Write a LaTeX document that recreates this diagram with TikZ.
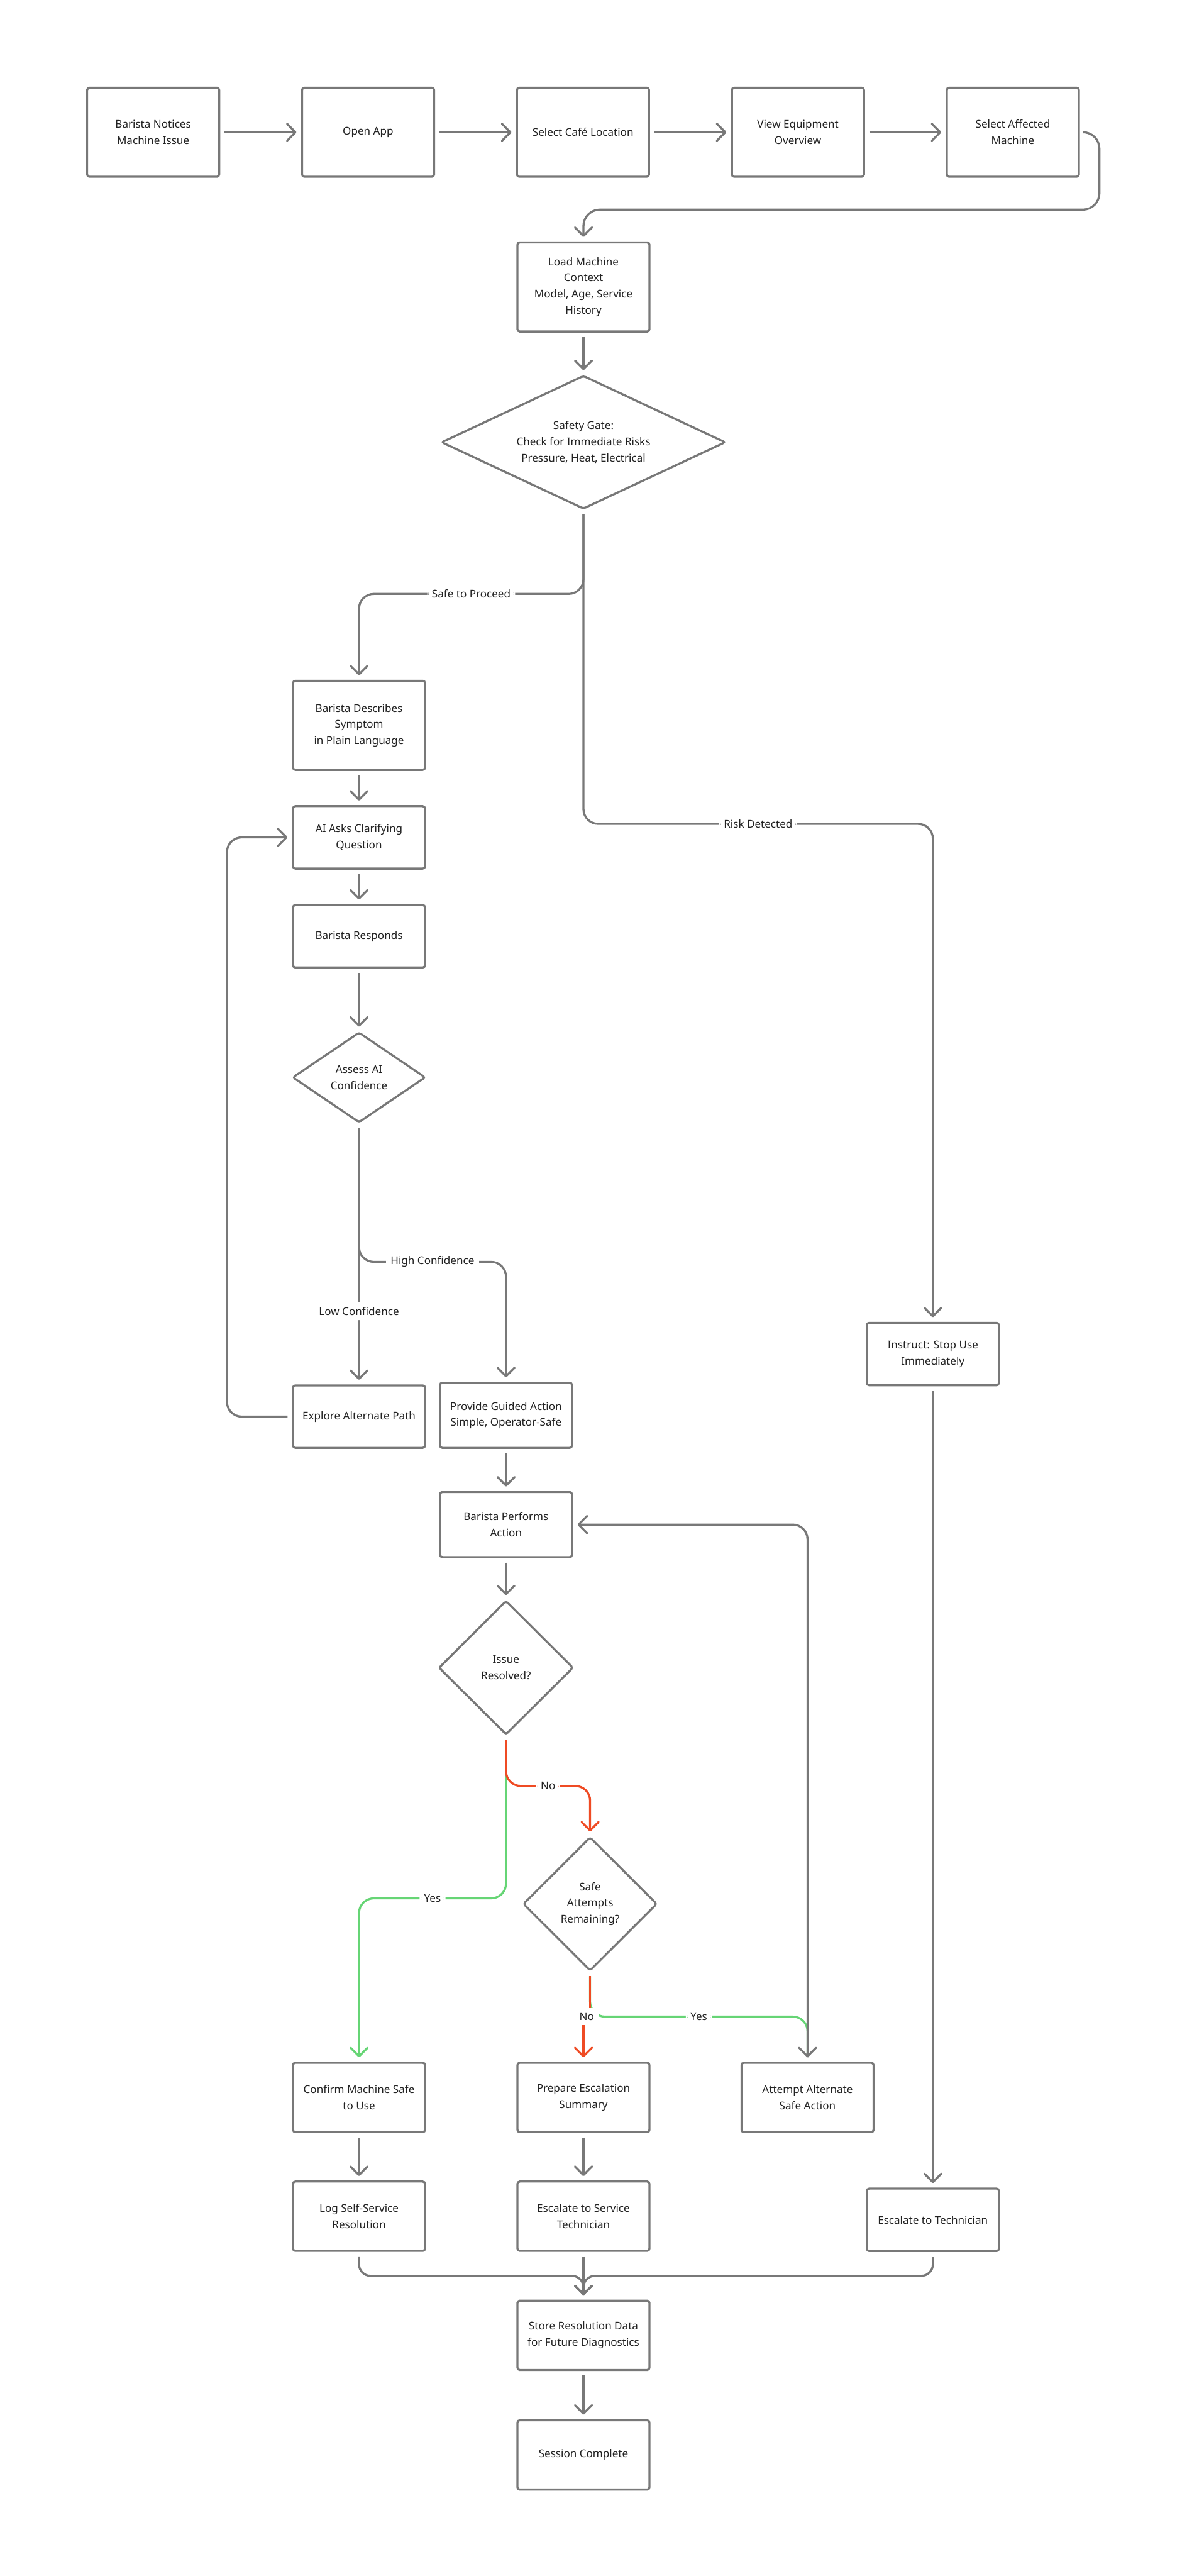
\documentclass[tikz,border=0pt]{standalone}
\usepackage{fontspec}
\setmainfont{Noto Sans}
\usepackage{tikz}
\usetikzlibrary{arrows.meta,positioning,shapes.geometric}
\definecolor{edgegray}{HTML}{787878}
\definecolor{okgreen}{HTML}{66D575}
\definecolor{nored}{HTML}{EF4B24}
\definecolor{inktext}{HTML}{222222}

\begin{document}
\begin{tikzpicture}[x=0.05cm, y=-0.05cm, node distance=6mm and 24.6mm,
  every node/.style={font=\fontsize{9.3}{14}\selectfont, text=inktext},
  box/.style={draw=edgegray, line width=1.8pt, rounded corners=2pt, fill=white, align=center, minimum width=40.2mm, minimum height=19mm, inner sep=2pt},
  tall/.style={box, minimum height=27.1mm},
  mid/.style={box, minimum height=21.1mm},
  decide/.style={diamond, draw=edgegray, line width=1.8pt, rounded corners=2pt, fill=white, align=center, inner sep=0pt},
  arr/.style={-{Straight Barb[length=2.6mm, width=5.2mm, round]}, line width=1.8pt, draw=edgegray, shorten <=1.35mm, shorten >=1.35mm, rounded corners=4.5mm},
  yesarr/.style={arr, draw=okgreen},
  noarr/.style={arr, draw=nored},
  lbl/.style={fill=white, inner sep=4pt}]
\fill[white] (0,0) rectangle (722.65,1568);
\useasboundingbox (0,0) rectangle (722.65,1568);
% top row
\node[tall] (notice) at (93.25,80.5) {Barista Notices\\Machine Issue};
\node[tall, right=of notice] (app) {Open App};
\node[tall, right=of app] (cafe) {Select Café Location};
\node[tall, right=of cafe] (equip) {View Equipment\\Overview};
\node[tall, right=of equip] (pick) {Select Affected\\Machine};
% safety gate
\node[tall] (ctx) at (355.25,174.7) {Load Machine\\Context\\Model, Age, Service\\History};
\node[decide, aspect=2.12, minimum width=8.65cm, minimum height=4.06cm] (gate) at (355.25,269.2) {Safety Gate:\\Check for Immediate Risks\\Pressure, Heat, Electrical};
% diagnosis loop
\node[tall] (desc) at (218.6,441.5) {Barista Describes\\Symptom\\in Plain Language};
\node[box] (ask) at (218.6,509.7) {AI Asks Clarifying\\Question};
\node[box] (resp) at (218.6,569.9) {Barista Responds};
\node[decide, aspect=1.47, minimum width=4.05cm, minimum height=2.75cm] (assess) at (218.6,655.8) {Assess AI\\Confidence};
\node[box] (alt) at (218.6,862.3) {Explore Alternate Path};
\node[box, minimum height=19.8mm] (guide) at (308.1,861.5) {Provide Guided Action\\Simple, Operator-Safe};
\node[box, minimum height=19.8mm] (perform) at (308.1,928) {Barista Performs\\Action};
\node[decide, minimum width=4.1cm, minimum height=4.08cm] (solved) at (308.1,1015.1) {Issue\\Resolved?};
\node[decide, minimum width=4.08cm, minimum height=4.07cm] (attempts) at (359.3,1158.9) {Safe\\Attempts\\Remaining?};
% outcomes
\node[mid] (safe) at (218.6,1276.7) {Confirm Machine Safe\\to Use};
\node[mid] (prep) at (355.25,1276.7) {Prepare Escalation\\Summary};
\node[mid] (altact) at (491.7,1276.7) {Attempt Alternate\\Safe Action};
\node[mid] (logres) at (218.6,1349) {Log Self-Service\\Resolution};
\node[mid] (escsvc) at (355.25,1349) {Escalate to Service\\Technician};
\node[box] (stop) at (568,824.2) {Instruct: Stop Use\\Immediately};
\node[box] (esctech) at (568,1351.2) {Escalate to Technician};
\node[mid] (store) at (355.25,1421.5) {Store Resolution Data\\for Future Diagnostics};
\node[mid] (done) at (355.25,1494.3) {Session Complete};
\coordinate (loopx) at (138.2,0);

\draw[arr] (notice) -- (app);
\draw[arr] (app) -- (cafe);
\draw[arr] (cafe) -- (equip);
\draw[arr] (equip) -- (pick);
\draw[arr, shorten <=0pt, rounded corners=5mm] ([xshift=1.35mm]pick.east) -| (669.4,127.6) -| (ctx.north);
\draw[arr] (ctx) -- (gate);
\draw[arr] (gate.south) -- (355.25,361.5) -| node[lbl, pos=0.25] {Safe to Proceed} (desc.north);
\draw[arr] (gate.south) -- (355.25,501.5) -| node[lbl, pos=0.25] {Risk Detected} (stop.north);
\draw[arr] (desc) -- (ask);
\draw[arr] (ask) -- (resp);
\draw[arr] (resp) -- (assess);
\draw[arr] (assess) -- node[lbl, pos=0.72] {Low Confidence} (alt);
\draw[arr] (assess.south) -- (218.6,768.1) -| node[lbl, pos=0.25] {High Confidence} (guide.north);
\draw[arr] (alt.west) -| (loopx |- ask.west) -- (ask.west);
\draw[arr] (guide) -- (perform);
\draw[arr] (perform) -- (solved);
\draw[yesarr] (solved.south) -- (308.1,1155.5) -| node[lbl, pos=0.25] {Yes} (safe.north);
\draw[noarr] (solved.south) -- (308.1,1087.1) -| node[lbl, pos=0.25] {No} (attempts.north);
\draw[yesarr, -{Straight Barb[length=2.6mm, width=5.2mm, round, color=edgegray]}] (attempts.south) -- (359.3,1227.5) -| node[lbl, pos=0.25] {Yes} (altact.north);
\draw[noarr, rounded corners=0pt] (attempts.south) -- (359.3,1227.5) -- node[lbl] {No} (355.25,1227.5) -- (prep.north);
\draw[arr] (altact.north) |- (perform.east);
\draw[arr] (safe) -- (logres);
\draw[arr] (prep) -- (escsvc);
\draw[arr] (stop) -- (esctech);
\draw[arr, rounded corners=3.5mm] (logres.south) |- (355.25,1385.3) -- (store.north);
\draw[arr] (escsvc) -- (store);
\draw[arr, rounded corners=3.5mm] (esctech.south) |- (355.25,1385.3) -- (store.north);
\draw[arr] (store) -- (done);
\end{tikzpicture}
\end{document}
